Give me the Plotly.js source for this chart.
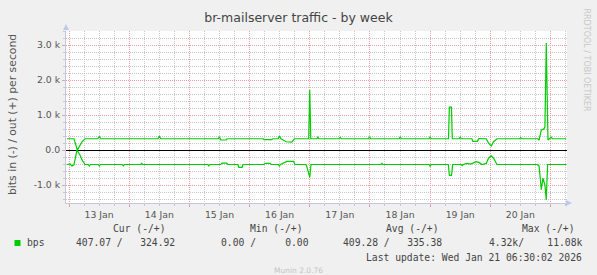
<!DOCTYPE html>
<html>
<head>
<meta charset="utf-8">
<script src="https://cdn.plot.ly/plotly-3.0.1.min.js"></script>
<style>
  html, body { margin: 0; padding: 0; background: #f0f0f0; }
  #chart { width: 597px; height: 275px; }
</style>
</head>
<body>
<div id="chart"></div>
<script>
// ---- data (bits per second) ----
const outTimes = [
  "2026-01-12 23:12","2026-01-13 02:00","2026-01-13 03:19","2026-01-13 04:23","2026-01-13 05:11","2026-01-13 06:23",
  "2026-01-13 11:30","2026-01-13 12:05","2026-01-13 12:40",
  "2026-01-14 11:30","2026-01-14 12:02","2026-01-14 12:35",
  "2026-01-15 11:30","2026-01-15 11:58","2026-01-15 12:30","2026-01-15 14:40","2026-01-15 15:02",
  "2026-01-16 05:30","2026-01-16 05:48","2026-01-16 08:52","2026-01-16 09:15",
  "2026-01-16 11:25","2026-01-16 11:54","2026-01-16 12:30","2026-01-16 14:35","2026-01-16 16:51","2026-01-16 17:54",
  "2026-01-16 23:35","2026-01-17 00:00","2026-01-17 00:25",
  "2026-01-17 02:50","2026-01-17 03:14","2026-01-17 03:40",
  "2026-01-17 11:40","2026-01-17 12:07","2026-01-17 12:35",
  "2026-01-17 23:25","2026-01-17 23:50","2026-01-18 00:15",
  "2026-01-18 11:40","2026-01-18 12:04","2026-01-18 12:30",
  "2026-01-18 23:35","2026-01-19 00:00","2026-01-19 00:25",
  "2026-01-19 07:20","2026-01-19 07:40","2026-01-19 08:30","2026-01-19 08:50",
  "2026-01-19 11:35","2026-01-19 12:00","2026-01-19 12:25",
  "2026-01-19 16:40","2026-01-19 17:04","2026-01-19 18:48","2026-01-19 19:26",
  "2026-01-19 22:22","2026-01-19 23:18","2026-01-20 00:23","2026-01-20 01:18","2026-01-20 02:38",
  "2026-01-20 11:40","2026-01-20 12:04","2026-01-20 12:30",
  "2026-01-20 19:00","2026-01-20 19:27","2026-01-20 20:20","2026-01-20 21:15","2026-01-20 21:47",
  "2026-01-20 22:19","2026-01-20 23:00","2026-01-21 00:19","2026-01-21 00:45","2026-01-21 06:18"
];
const outValues = [
  325,325,0,150,240,325,
  325,390,325,
  325,390,325,
  325,385,290,290,325,
  325,300,300,325,
  325,405,325,240,230,325,
  325,1720,325,
  325,370,325,
  325,370,325,
  325,380,325,
  325,380,325,
  325,380,325,
  325,1230,1230,325,
  325,370,325,
  325,250,250,330,
  325,200,120,240,325,
  325,360,325,
  325,290,580,600,660,
  3060,290,370,325,325
];
const inTimes = [
  "2026-01-12 23:12","2026-01-13 00:24","2026-01-13 01:12","2026-01-13 01:59","2026-01-13 03:11","2026-01-13 04:23","2026-01-13 05:11","2026-01-13 06:23",
  "2026-01-13 07:40","2026-01-13 08:06","2026-01-13 08:30",
  "2026-01-13 11:40","2026-01-13 12:05","2026-01-13 12:30",
  "2026-01-13 21:15","2026-01-13 21:40","2026-01-13 22:05",
  "2026-01-14 04:35","2026-01-14 05:01","2026-01-14 05:25",
  "2026-01-15 07:20","2026-01-15 07:45","2026-01-15 08:10",
  "2026-01-15 12:30","2026-01-15 12:56","2026-01-15 14:55","2026-01-15 15:20",
  "2026-01-15 19:20","2026-01-15 19:42","2026-01-15 21:01","2026-01-15 21:25",
  "2026-01-16 05:40","2026-01-16 06:05","2026-01-16 08:12","2026-01-16 08:35",
  "2026-01-16 11:30","2026-01-16 11:54","2026-01-16 12:20","2026-01-16 14:51","2026-01-16 17:29","2026-01-16 18:10",
  "2026-01-16 22:25","2026-01-16 22:51","2026-01-17 00:00","2026-01-17 00:30",
  "2026-01-18 04:20","2026-01-18 04:46","2026-01-18 05:10",
  "2026-01-18 23:35","2026-01-19 00:00","2026-01-19 00:25",
  "2026-01-19 07:15","2026-01-19 07:41","2026-01-19 08:32","2026-01-19 09:00",
  "2026-01-19 12:25","2026-01-19 12:49","2026-01-19 13:15",
  "2026-01-19 14:41","2026-01-19 16:00","2026-01-19 17:04","2026-01-19 18:16","2026-01-19 19:26","2026-01-19 20:40",
  "2026-01-19 22:22","2026-01-19 23:18","2026-01-20 00:23","2026-01-20 01:18","2026-01-20 02:38",
  "2026-01-20 18:37","2026-01-20 19:27","2026-01-20 20:20","2026-01-20 21:00","2026-01-20 21:47","2026-01-20 22:19","2026-01-20 22:51",
  "2026-01-21 06:18"
];
const inValues = [
  -410,-395,-450,-420,0,-140,-280,-410,
  -410,-450,-410,
  -410,-450,-410,
  -410,-445,-410,
  -410,-380,-410,
  -410,-450,-410,
  -410,-370,-370,-410,
  -410,-490,-490,-410,
  -410,-380,-380,-410,
  -410,-450,-410,-320,-320,-410,
  -410,-470,-780,-410,
  -410,-380,-410,
  -410,-470,-410,
  -410,-720,-720,-410,
  -410,-440,-410,
  -380,-400,-370,-330,-350,-410,
  -380,-230,-165,-230,-410,
  -410,-450,-1130,-800,-1000,-1420,-410,
  -410
];
const yTickVals = [-1000, 0, 1000, 2000, 3000];
const yTickText = ["-1.0 k", "0.0", "1.0 k", "2.0 k", "3.0 k"];
const legendHeaders = ["Cur (-/+)", "Min (-/+)", "Avg (-/+)", "Max (-/+)"];
const legendValues = ["407.07 /   324.92", "0.00 /     0.00", "409.28 /   335.38", "4.32k/    11.08k"];
const seriesName = "bps";
const lastUpdate = "Last update: Wed Jan 21 06:30:02 2026";

// ---- layout helpers (pixel -> paper) ----
const L = 66, R = 30, T = 31, B = 72, W = 597, H = 275;
const PW = W - L - R, PH = H - T - B;
const px = x => (x - L) / PW;
const py = y => (T + PH - y) / PH;
const nb = s => s.replace(/ /g, "\u00a0");

// minor grid positions (every 200 on y, every 6 h on x), skipping the major lines
const yMinor = [];
for (let v = -1400; v <= 3400; v += 200) if (v % 1000 !== 0) yMinor.push(v);
const xMinor = [];
const dayMs = 86400000, base = Date.UTC(2026, 0, 12);
for (let k = 0; k < 40; k++) {
  if (k % 4 === 0) continue;
  const d = new Date(base + k * dayMs / 4);
  xMinor.push(d.toISOString().slice(0, 16).replace("T", " "));
}

const green = "#00cc00";
const traces = [
  { x: outTimes, y: outValues, type: "scatter", mode: "lines", line: { color: green, width: 1.2 }, showlegend: false, hoverinfo: "skip" },
  { x: inTimes, y: inValues, type: "scatter", mode: "lines", line: { color: green, width: 1.2 }, showlegend: false, hoverinfo: "skip" }
];

const mono = { family: "DejaVu Sans Mono", size: 9.7, color: "#444" };
const annotations = [];
const headerRight = [166.8, 303.9, 439.8, 576.2];
const valueRight = [176.3, 310.4, 442.9, 582.6];
legendHeaders.forEach((h, i) => annotations.push({
  text: nb(h), xref: "paper", yref: "paper", x: px(headerRight[i]), y: py(228.4),
  xanchor: "right", yanchor: "middle", showarrow: false, font: mono, borderpad: 0
}));
legendValues.forEach((v, i) => annotations.push({
  text: nb(v), xref: "paper", yref: "paper", x: px(valueRight[i]), y: py(242.8),
  xanchor: "right", yanchor: "middle", showarrow: false, font: mono, borderpad: 0
}));
annotations.push({ text: seriesName, xref: "paper", yref: "paper", x: px(26.2), y: py(242.8),
  xanchor: "left", yanchor: "middle", showarrow: false, font: mono, borderpad: 0 });
annotations.push({ text: nb(lastUpdate), xref: "paper", yref: "paper", x: px(582.6), y: py(257),
  xanchor: "right", yanchor: "middle", showarrow: false, font: mono, borderpad: 0 });
annotations.push({ text: "Munin 2.0.76", xref: "paper", yref: "paper", x: px(298.2), y: py(270.3),
  xanchor: "center", yanchor: "middle", showarrow: false, borderpad: 0,
  font: { family: "DejaVu Sans", size: 7.5, color: "#c4c4c4" } });
annotations.push({ text: "bits in (-) / out (+) per second", xref: "paper", yref: "paper", x: px(12), y: py(115),
  xanchor: "center", yanchor: "middle", textangle: -90, showarrow: false, borderpad: 0,
  font: { family: "DejaVu Sans", size: 10.8, color: "#555" } });
annotations.push({ text: "RRDTOOL / TOBI OETIKER", xref: "paper", yref: "paper", x: px(585.5), y: py(60),
  xanchor: "center", yanchor: "middle", textangle: 90, showarrow: false, borderpad: 0,
  font: { family: "DejaVu Sans", size: 8, color: "#c8c8c8" } });

const shapes = [
  { type: "path", xref: "paper", yref: "paper",
    path: `M ${px(566)} ${py(200)} L ${px(572)} ${py(203)} L ${px(566)} ${py(206)} Z`,
    fillcolor: "#c0c8f0", line: { width: 0 } },
  { type: "path", xref: "paper", yref: "paper",
    path: `M ${px(63)} ${py(30)} L ${px(66)} ${py(24)} L ${px(69)} ${py(30)} Z`,
    fillcolor: "#c0c8f0", line: { width: 0 } },
  { type: "rect", xref: "paper", yref: "paper", x0: px(14.5), x1: px(20.5), y0: py(246), y1: py(240),
    fillcolor: green, line: { width: 0 } }
];

const red = "#e8a0a0", grey = "#c8c8c8";
const tickFont = { family: "DejaVu Sans", size: 9.3, color: "#555" };
const layout = {
  width: W, height: H,
  margin: { l: L, r: R, t: T, b: B, pad: 0 },
  paper_bgcolor: "#f0f0f0",
  plot_bgcolor: "#ffffff",
  title: { text: "br-mailserver traffic - by week", x: 0.5, xanchor: "center", y: 1 - 18 / H, yanchor: "middle",
    font: { family: "DejaVu Sans", size: 12.5, color: "#444" } },
  showlegend: false,
  xaxis: {
    type: "date",
    range: ["2026-01-12 22:48", "2026-01-21 06:35"],
    tick0: "2026-01-13", dtick: dayMs,
    tickformat: "%d %b", ticklabelmode: "period",
    showgrid: true, gridcolor: red, griddash: "1px,1px", gridwidth: 1,
    ticks: "outside", ticklen: 3, tickcolor: red,
    minor: { tickmode: "array", tickvals: xMinor, showgrid: true, gridcolor: grey, griddash: "1px,1px", ticks: "outside", ticklen: 2, tickcolor: grey },
    showline: true, linecolor: "#c8c8dc", linewidth: 1,
    zeroline: false, tickfont: tickFont, fixedrange: true
  },
  yaxis: {
    range: [-1510, 3404],
    tickmode: "array", tickvals: yTickVals, ticktext: yTickText,
    showgrid: true, gridcolor: red, griddash: "1px,1px", gridwidth: 1,
    ticks: "outside", ticklen: 3, tickcolor: red,
    minor: { tickmode: "array", tickvals: yMinor, showgrid: true, gridcolor: grey, griddash: "1px,1px", ticks: "outside", ticklen: 2, tickcolor: grey },
    showline: true, linecolor: "#c8c8dc", linewidth: 1,
    zeroline: true, zerolinecolor: "#000000", zerolinewidth: 1,
    tickfont: tickFont, fixedrange: true
  },
  annotations: annotations,
  shapes: shapes
};

Plotly.newPlot("chart", traces, layout, { staticPlot: true, displayModeBar: false });
</script>
</body>
</html>
